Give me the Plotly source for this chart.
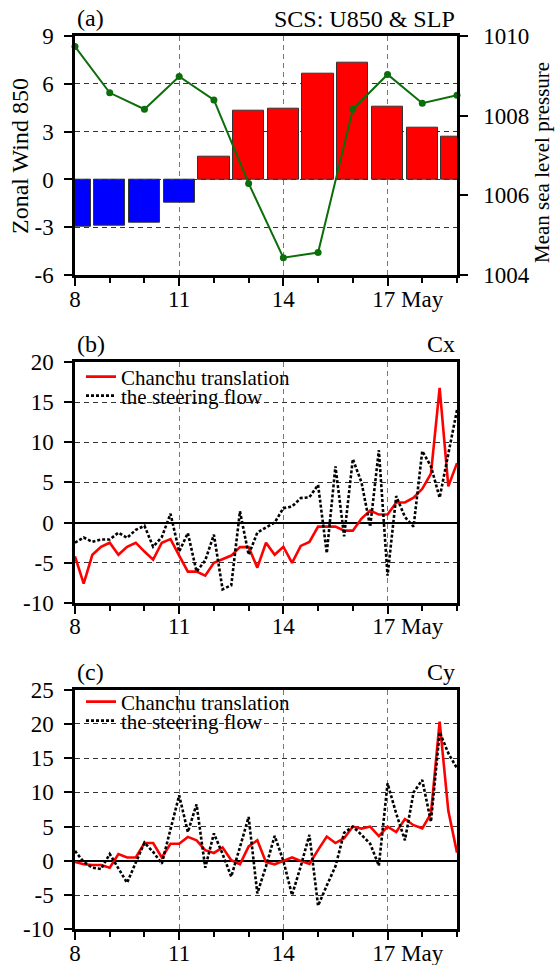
import plotly.graph_objects as go

# ---------------- data ----------------
days = [8, 9, 10, 11, 12, 13, 14, 15, 16, 17, 18, 19]
u850 = [-2.95, -2.9, -2.7, -1.45, 1.42, 4.3, 4.45, 6.6, 7.3, 4.57, 3.25, 2.65]
slp = [1009.73, 1008.57, 1008.16, 1008.98, 1008.39, 1006.30,
       1004.44, 1004.57, 1008.16, 1009.03, 1008.31, 1008.51]

time6h = [8.0, 8.25, 8.5, 8.75, 9.0, 9.25, 9.5, 9.75, 10.0, 10.25, 10.5, 10.75,
          11.0, 11.25, 11.5, 11.75, 12.0, 12.25, 12.5, 12.75, 13.0, 13.25, 13.5, 13.75,
          14.0, 14.25, 14.5, 14.75, 15.0, 15.25, 15.5, 15.75, 16.0, 16.25, 16.5, 16.75,
          17.0, 17.25, 17.5, 17.75, 18.0, 18.25, 18.5, 18.75, 19.0]

cx_trans = [-4.2, -7.6, -4.0, -3.0, -2.5, -4.0, -3.0, -2.5, -3.6, -4.6, -2.5, -2.05,
            -4.1, -6.1, -6.1, -6.6, -5.0, -4.5, -4.1, -3.05, -3.05, -5.6, -2.5, -4.0,
            -3.0, -5.0, -2.9, -2.4, -0.5, -0.5, -0.5, -1.0, -1.0, 0.5, 1.5, 1.0,
            1.0, 2.5, 2.5, 3.1, 4.2, 6.1, 16.75, 4.5, 7.4]
cx_steer = [-2.5, -1.85, -2.4, -2.1, -2.1, -1.25, -1.9, -0.9, -0.4, -3.0, -1.8, 1.1,
            -3.6, -1.3, -6.1, -4.7, -1.5, -8.3, -7.8, 1.4, -4.0, -1.25, -0.6, 0.0,
            1.8, 2.0, 3.05, 3.15, 4.7, -3.8, 7.0, -1.7, 7.9, 5.0, -0.5, 9.0,
            -6.6, 3.3, 0.7, -0.5, 8.9, 7.0, 3.1, 8.6, 14.0]

cy_trans = [-0.15, -0.5, -0.6, -0.6, -1.0, 1.0, 0.5, 0.5, 2.6, 2.6, 0.5, 2.5,
            2.5, 3.5, 3.0, 1.55, 1.15, 1.95, 0.1, -0.5, 2.1, 3.0, -0.2, -0.5,
            0.0, 0.5, 0.0, -0.45, 1.6, 3.55, 2.6, 3.3, 5.0, 4.7, 5.0, 3.6,
            5.0, 4.2, 6.1, 5.2, 4.75, 6.9, 20.3, 7.3, 1.2]
cy_steer = [1.45, -0.15, -1.0, -1.2, 1.0, -1.1, -3.2, -0.25, 2.65, 1.3, -0.4, 4.6,
            9.55, 4.2, 8.25, -1.0, 4.0, 1.0, -2.3, 2.0, 6.4, -4.75, -0.8, 3.65,
            0.0, -5.0, -0.8, 3.8, -6.55, -3.6, -0.8, 4.1, 5.0, 3.8, 2.5, -0.7,
            11.3, 6.9, 3.0, 10.0, 11.8, 5.7, 18.8, 15.7, 13.5]

xtick_vals = [8, 11, 14, 17]
xtick_text = ["8", "11", "14", "\u00a0" * 7 + "17 May"]
ya_vals = [-6, -3, 0, 3, 6, 9]
ya_text = ["-6", "-3", "0", "3", "6", "9"]
slp_vals = [1004, 1006, 1008, 1010]
slp_text = ["1004", "1006", "1008", "1010"]
yb_vals = [-10, -5, 0, 5, 10, 15, 20]
yb_text = ["-10", "-5", "0", "5", "10", "15", "20"]
yc_vals = [-10, -5, 0, 5, 10, 15, 20, 25]
yc_text = ["-10", "-5", "0", "5", "10", "15", "20", "25"]
name_trans = "Chanchu translation"
name_steer = "the steering flow"

# ---------------- layout helpers ----------------
W, H = 557, 965
FONT = "Liberation Serif, Times New Roman, serif"
TICKSIZE = 23
X0, X1 = 75, 457


def px_x(p):
    return p / W


def px_y(p):
    return 1 - p / H


xdom = [px_x(X0), px_x(X1)]
dom_a = [px_y(275.3), px_y(35.7)]
dom_b = [px_y(603.0), px_y(361.8)]
dom_c = [px_y(929.4), px_y(689.5)]

GRIDX = dict(showgrid=True, gridcolor="#777777", gridwidth=1.3, griddash="5px,4px")
GRIDY = dict(showgrid=True, gridcolor="#333333", gridwidth=1, griddash="5px,4px")


def xaxis_cfg(anchor):
    d = dict(domain=xdom, anchor=anchor, range=[8, 19], tickmode="array",
             tickvals=xtick_vals, ticktext=xtick_text, ticks="outside", ticklen=8,
             tickwidth=2, tickcolor="black", showline=True, linecolor="black",
             linewidth=2.5, mirror=True, zeroline=False, automargin=False,
             ticklabelstandoff=-7,
             tickfont=dict(family=FONT, size=TICKSIZE, color="black"),
             minor=dict(dtick=1, tick0=8, ticks="outside", ticklen=5, tickwidth=1.5,
                        tickcolor="black", showgrid=False))
    d.update(GRIDX)
    return d


def yaxis_cfg(anchor, dom, rng, vals, text, zeroline):
    d = dict(domain=dom, anchor=anchor, range=rng, tickmode="array",
             tickvals=vals, ticktext=text, ticks="outside",
             ticklen=8, tickwidth=2, tickcolor="black", showline=True,
             linecolor="black", linewidth=2.5, automargin=False,
             zeroline=zeroline, zerolinecolor="black", zerolinewidth=1.5,
             ticklabelstandoff=6,
             tickfont=dict(family=FONT, size=TICKSIZE, color="black"))
    d.update(GRIDY)
    return d


fig = go.Figure()

# ---------------- panel (a) ----------------
bar_colors = ["#0000ff" if v < 0 else "#ff0000" for v in u850]
fig.add_trace(go.Bar(x=days, y=u850, width=0.9, marker=dict(color=bar_colors,
                     line=dict(color="#333333", width=1)),
                     xaxis="x", yaxis="y", showlegend=False))
fig.add_trace(go.Scatter(x=days, y=slp, mode="lines+markers",
                         line=dict(color="#0b6e0b", width=2),
                         marker=dict(color="#0b6e0b", size=7),
                         xaxis="x", yaxis="y2", cliponaxis=False, showlegend=False))

# ---------------- panel (b) ----------------
fig.add_trace(go.Scatter(x=time6h, y=cx_trans, mode="lines", name=name_trans,
                         line=dict(color="#ff0000", width=2.6),
                         xaxis="x2", yaxis="y3", legend="legend"))
fig.add_trace(go.Scatter(x=time6h, y=cx_steer, mode="lines", name=name_steer,
                         line=dict(color="black", width=2.6, dash="3px,2px"),
                         xaxis="x2", yaxis="y3", legend="legend2"))

# ---------------- panel (c) ----------------
fig.add_trace(go.Scatter(x=time6h, y=cy_trans, mode="lines", name=name_trans,
                         line=dict(color="#ff0000", width=2.6),
                         xaxis="x3", yaxis="y4", legend="legend3"))
fig.add_trace(go.Scatter(x=time6h, y=cy_steer, mode="lines", name=name_steer,
                         line=dict(color="black", width=2.6, dash="3px,2px"),
                         xaxis="x3", yaxis="y4", legend="legend4"))

ya = yaxis_cfg("x", dom_a, [-6, 9], ya_vals, ya_text, False)
ya["mirror"] = False
y2 = dict(overlaying="y", side="right", anchor="x", range=[1004, 1010],
          tickmode="array", tickvals=slp_vals, ticktext=slp_text,
          ticks="outside", ticklen=8, tickwidth=2, tickcolor="black", showline=True,
          linecolor="black", linewidth=2.5, showgrid=False, zeroline=False,
          automargin=False, ticklabelstandoff=11,
          tickfont=dict(family=FONT, size=TICKSIZE, color="black"))
yb = yaxis_cfg("x2", dom_b, [-10, 20], yb_vals, yb_text, True)
yb["mirror"] = True
yc = yaxis_cfg("x3", dom_c, [-10, 25], yc_vals, yc_text, True)
yc["mirror"] = True

legend_common = dict(bgcolor="rgba(0,0,0,0)", borderwidth=0, xanchor="left",
                     yanchor="middle", itemwidth=30, tracegroupgap=0,
                     font=dict(family=FONT, size=21, color="black"))

tfont = dict(family=FONT, size=24, color="black")
annotations = [
    dict(text="(a)", x=px_x(X0), y=px_y(18), xanchor="left", yanchor="middle"),
    dict(text="SCS: U850 & SLP", x=px_x(X1), y=px_y(19), xanchor="right", yanchor="middle"),
    dict(text="(b)", x=px_x(X0), y=px_y(344), xanchor="left", yanchor="middle"),
    dict(text="Cx", x=px_x(X1), y=px_y(344), xanchor="right", yanchor="middle"),
    dict(text="(c)", x=px_x(X0), y=px_y(672), xanchor="left", yanchor="middle"),
    dict(text="Cy", x=px_x(X1), y=px_y(672), xanchor="right", yanchor="middle"),
    dict(text="Zonal Wind 850", x=px_x(20), y=px_y(156), textangle=-90,
         xanchor="center", yanchor="middle"),
    dict(text="Mean sea level pressure", x=px_x(542), y=px_y(163), textangle=-90,
         xanchor="center", yanchor="middle", font=dict(family=FONT, size=21, color="black")),
]
for a in annotations:
    a.update(xref="paper", yref="paper", showarrow=False)
    a.setdefault("font", tfont)

fig.update_layout(
    width=W, height=H, margin=dict(l=0, r=0, t=0, b=0),
    paper_bgcolor="white", plot_bgcolor="white",
    font=dict(family=FONT, color="black"),
    bargap=0,
    xaxis=xaxis_cfg("y"), yaxis=ya, yaxis2=y2,
    xaxis2=xaxis_cfg("y3"), yaxis3=yb,
    xaxis3=xaxis_cfg("y4"), yaxis4=yc,
    legend=dict(x=px_x(81), y=px_y(377), **legend_common),
    legend2=dict(x=px_x(81), y=px_y(396), **legend_common),
    legend3=dict(x=px_x(81), y=px_y(702), **legend_common),
    legend4=dict(x=px_x(81), y=px_y(721), **legend_common),
    annotations=annotations,
)

fig.write_html("out.html", config={"displayModeBar": False},
               post_script="document.body.style.margin='0';"
                           "document.body.style.overflow='hidden';")
